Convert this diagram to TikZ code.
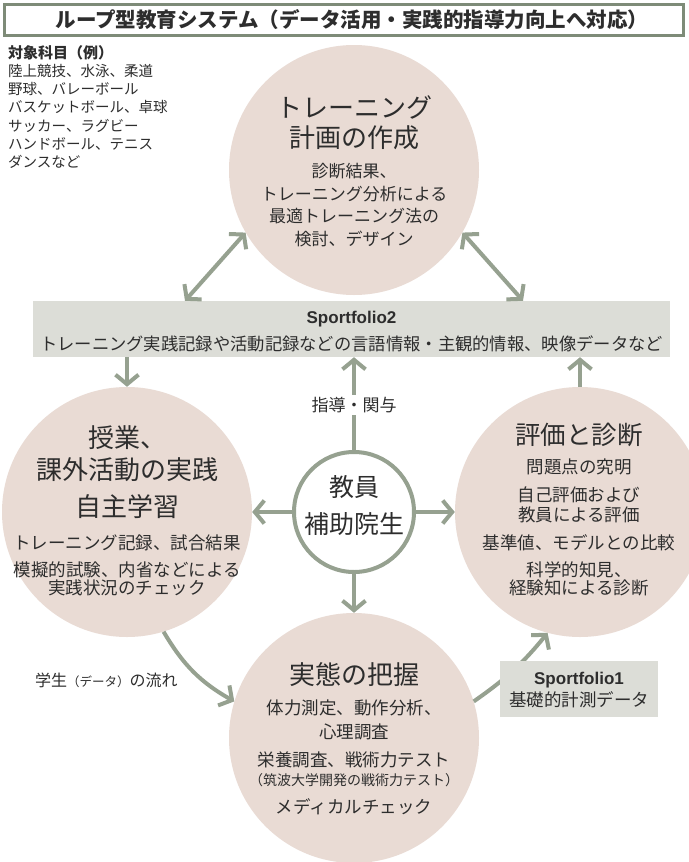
\documentclass[tikz,border=0pt]{standalone}
\usepackage{fontspec}
\setmainfont{Noto Sans CJK JP}
\newfontfamily\latinb{Liberation Sans}
\usetikzlibrary{arrows.meta,calc}
\definecolor{bubblec}{RGB}{233,219,212}
\definecolor{arrowc}{RGB}{150,161,144}
\definecolor{boxc}{RGB}{220,221,215}
\definecolor{titlec}{RGB}{126,139,120}
\definecolor{ink}{RGB}{45,45,45}
\newcommand\myfs[2]{\fontsize{#1}{#2}\selectfont}
\begin{document}
\begin{tikzpicture}[x=1pt,y=-1pt,
  bubble/.style={circle, fill=bubblec, minimum size=250pt, inner sep=0pt},
  tipb/.tip={Straight Barb[length=9.5pt,width=23pt]},
  conn/.style={draw=arrowc, line width=4pt, -tipb},
  dconn/.style={draw=arrowc, line width=4pt, tipb-tipb},
  hd/.style={align=center, text=ink, inner sep=0pt, font=\myfs{26}{31}},
  bd/.style={align=center, text=ink, inner sep=0pt, font=\myfs{17.5}{22}},
  sfbox/.style={rectangle, fill=boxc, inner sep=0pt},
  sftext/.style={align=center, text=ink, inner sep=0pt},
]
\useasboundingbox[fill=white] (0,0) rectangle (688,862);

% title
\node[draw=titlec, line width=3pt, fill=white, minimum width=679pt, minimum height=31pt,
      inner sep=0pt] (title) at (344,20) {};
\node[text=ink, inner sep=0pt, font=\bfseries\myfs{20.5}{24}] (titleT) at (352,20)
  {ループ型教育システム（データ活用・実践的指導力向上へ対応）};

% subjects list
\node[anchor=west, align=left, text=ink, inner sep=0pt, font=\myfs{14.5}{18.2}] (subjects) at (8,107)
  {{\bfseries\myfs{15}{18.2}対象科目（例）}\\陸上競技、水泳、柔道\\野球、バレーボール\\バスケットボール、卓球\\サッカー、ラグビー\\ハンドボール、テニス\\ダンスなど};

% bubbles
\node[bubble] (plan) at (354,170) {};
\node[bubble] (practice) at (127,512) {};
\node[bubble] (eval) at (580,512) {};
\node[bubble] (grasp) at (354,738) {};
\node[circle, draw=arrowc, line width=4pt, fill=white, minimum size=120pt, inner sep=0pt] (staff) at (354,512) {};

% Sportfolio2 box
\node[sfbox, minimum width=637pt, minimum height=56pt] (sf2) at (351.5,329) {};
\node[sftext, font=\myfs{17.3}{27}] (sf2T) at (351.5,331.5)
  {{\latinb\bfseries\myfs{17}{17}Sportfolio2}\\トレーニング実践記録や活動記録などの言語情報・主観的情報、映像データなど};

\coordinate (xl) at (185,0);
\coordinate (xr) at (523,0);

% connectors
\draw[dconn] (plan.210) -- (sf2.north -| xl);
\draw[dconn] (plan.330) -- (sf2.north -| xr);
\draw[conn] (practice.north |- sf2.south) -- (practice.north);
\draw[conn] (eval.north) -- (eval.north |- sf2.south);
\draw[conn] (staff.north) -- (staff.north |- sf2.south);
\draw[conn] (staff.west) -- (practice.east);
\draw[conn] (staff.east) -- (eval.west);
\draw[conn] (staff.south) -- (grasp.north);
\draw[conn] (practice.-73) to[bend right=15] (grasp.163);
\draw[conn] (grasp.17) to[bend right=8] (eval.255);

% Sportfolio1 box
\node[sfbox, minimum width=158pt, minimum height=56pt] (sf1) at (579,689) {};
\node[sftext, font=\myfs{17.5}{22}] (sf1T) at (579,690)
  {{\latinb\bfseries\myfs{17}{17}Sportfolio1}\\基礎的計測データ};

% labels
\node[fill=white, inner sep=2pt, text=ink, font=\myfs{17}{20}] (guide) at (354,405) {指導・関与};
\node[anchor=west, inner sep=0pt, text=ink, font=\myfs{16}{20}] (flow) at (35,680)
  {学生{\myfs{12.5}{14}（データ）}の流れ};

% plan text
\node[hd, font=\myfs{26}{30}] (planH) at (354,123) {トレーニング\\計画の作成};
\node[bd, font=\myfs{17}{22.7}] (planB) at (354,205) {診断結果、\\トレーニング分析による\\最適トレーニング法の\\検討、デザイン};

% practice text
\node[hd, font=\myfs{26}{32}] (pracH) at (127,454) {授業、\\課外活動の実践};
\node[hd] (pracS) at (127,507) {自主学習};
\node[bd] (pracB1) at (127,543) {トレーニング記録、試合結果};
\node[bd, font=\myfs{17.5}{18.5}] (pracB2) at (127,579) {模擬的試験、内省などによる\\実践状況のチェック};

% eval text
\node[hd, font=\myfs{25.5}{30}] (evalH) at (579,435) {評価と診断};
\node[bd] (evalB1) at (579,467) {問題点の究明};
\node[bd, font=\myfs{17.5}{20}] (evalB2) at (579,505) {自己評価および\\教員による評価};
\node[bd] (evalB3) at (579,543) {基準値、モデルとの比較};
\node[bd, font=\myfs{17.5}{18.5}] (evalB4) at (579,579) {科学的知見、\\経験知による診断};

% grasp text
\node[hd] (graspH) at (354,675) {実態の把握};
\node[bd, font=\myfs{17.5}{24}] (graspB1) at (354,720) {体力測定、動作分析、\\心理調査};
\node[bd] (graspB2) at (354,760) {栄養調査、戦術力テスト};
\node[bd, font=\myfs{14}{16}] (graspB3) at (354,780) {（筑波大学開発の戦術力テスト）};
\node[bd] (graspB4) at (354,807) {メディカルチェック};

% staff text
\node[hd, font=\myfs{25}{37}] (staffT) at (354,505.5) {教員\\補助院生};
\end{tikzpicture}
\end{document}
